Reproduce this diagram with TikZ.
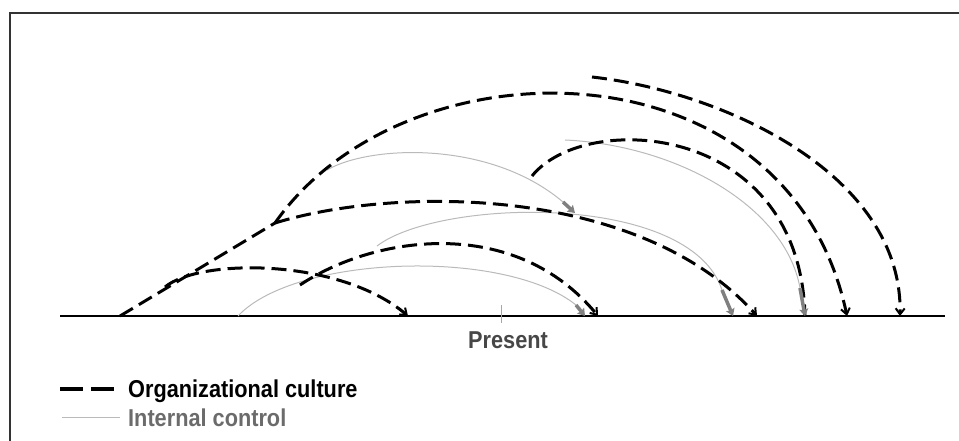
\documentclass[tikz,border=0pt]{standalone}
\usepackage{fontspec}
\setmainfont{Liberation Sans}
\newfontfamily\narrowsans{Liberation Sans}[FakeStretch=0.89]
\usetikzlibrary{arrows.meta}

\begin{document}
\begin{tikzpicture}[x=1bp,y=-1bp,
  culture/.style={line width=3bp, dash pattern=on 15bp off 7bp, black},
  culturetip/.style={-{Straight Barb[length=6bp,width=9bp,line width=2bp]}},
  control/.style={line width=1bp, black!27},
  controltip/.style={line width=3.5bp, black!50, -{Stealth[length=7bp,width=9bp,inset=1bp]}},
  lbl/.style={inner sep=0pt, font=\narrowsans\fontsize{24.5}{26}\selectfont\bfseries}]

\useasboundingbox (0,0) rectangle (959,441);

% frame
\draw[line width=2bp, black!80] (10,441) -- (10,13) -- (959,13);

% time axis and the present mark
\coordinate (axL) at (60,316);
\coordinate (axR) at (945,316);
\draw[line width=2.5bp] (axL) -- (axR);
\coordinate (nowT) at (501,305);
\coordinate (nowB) at (501,323);
\draw[line width=0.8bp, black!35] (nowT) -- (nowB);
\node[lbl, text=black!72, anchor=base] (present) at (508,349) {Present};

% end points on the axis
\coordinate (e1) at (408,316);
\coordinate (e2) at (598,316);
\coordinate (e3) at (757,316);
\coordinate (e4) at (847,316);
\coordinate (e5) at (900,316);
\coordinate (e6) at (805,316);
\coordinate (g2e) at (585,316);
\coordinate (g3e) at (733,316);

% starting points of the arcs
\coordinate (a0) at (120,316);
\coordinate (a1) at (165,287);
\coordinate (a2) at (275,223);
\coordinate (b0) at (300,285);
\coordinate (c0) at (532,176);
\coordinate (d0) at (592,77);
\coordinate (g1s) at (327,170);
\coordinate (g2s) at (238,316);
\coordinate (g3s) at (377,246);
\coordinate (g4s) at (565,140);

% where the internal-control arrows thicken
\coordinate (g1m) at (563,202);
\coordinate (g1e) at (575,213);
\coordinate (g2m) at (576,305);
\coordinate (g3m) at (722,290);
\coordinate (g4m) at (800,288);

% internal control (thin grey)
\draw[control] (g1s) .. controls (370,145) and (490,140) .. (g1m);
\draw[control] (g2s) .. controls (295,255) and (505,248) .. (g2m);
\draw[control] (g3s) .. controls (440,198) and (690,192) .. (g3m);
\draw[control] (g4s) .. controls (675,145) and (785,205) .. (g4m);

% organizational culture (black dashed)
\draw[culture] (a0) -- (a2);
\draw[culture, culturetip] (a1) .. controls (200,258) and (340,258) .. (e1);
\draw[culture, culturetip] (a2) .. controls (395,186) and (640,185) .. (e3);
\draw[culture, culturetip] (a2) .. controls (405,37) and (788,37) .. (e4);
\draw[culture, culturetip] (b0) .. controls (375,235) and (515,215) .. (e2);
\draw[culture] (c0) .. controls (585,110) and (800,122) .. (e6);
\draw[culture, culturetip] (d0) .. controls (725,92) and (903,175) .. (e5);

% thick grey heads of the internal-control arrows
\draw[controltip] (g1m) -- (g1e);
\draw[controltip] (g2m) -- (g2e);
\draw[controltip] (g3m) -- (g3e);
\draw[controltip] (g4m) -- (e6);

% legend
\coordinate (k1a) at (60,389);
\coordinate (k1b) at (114,389);
\draw[line width=3.5bp, dash pattern=on 23bp off 8bp] (k1a) -- (k1b);
\node[lbl, anchor=base west] (kcult) at (128,397) {Organizational culture};
\coordinate (k2a) at (62,418);
\coordinate (k2b) at (120,418);
\draw[control] (k2a) -- (k2b);
\node[lbl, text=black!58, anchor=base west] (kctrl) at (128,426) {Internal control};

\end{tikzpicture}
\end{document}
